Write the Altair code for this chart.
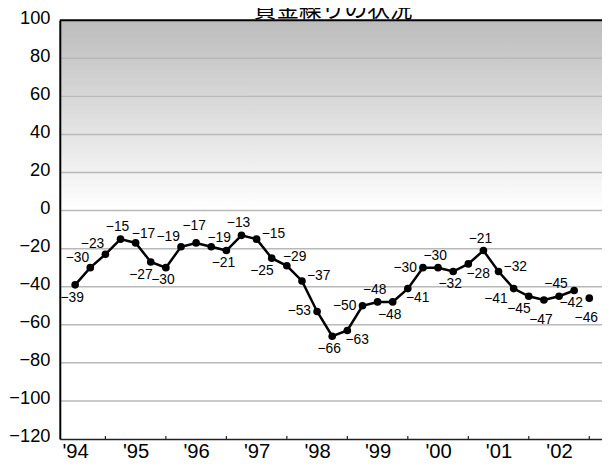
import json
import altair as alt
import pandas as pd

# ---------------- data ----------------
chart_title = "資金繰りの状況"
values = [-39, -30, -23, -15, -17, -27, -30, -19, -17, -19, -21, -13,
          -15, -25, -29, -37, -53, -66, -63, -50, -48, -48, -41, -30,
          -30, -32, -28, -21, -32, -41, -45, -47, -45, -42, -46]
first_year, first_quarter = 1994, 3
kinds = ["actual"] * 34 + ["forecast"]
placements = ["below", "upleft", "upleft", "above", "upright", "downleft",
              "below", "upleft", "high", "upright", "below", "above",
              "right", "downleft", "upright", "right", "left", "below",
              "downright", "left", "above", "below", "downright", "left",
              "above", "below", "downright", "above", "right", "downleft2",
              "downleft", "low", "above", "below", "low"]
year_labels = ["'94", "'95", "'96", "'97", "'98", "'99", "'00", "'01", "'02"]
label_years = [1994.5, 1995.5, 1996.5, 1997.5, 1998.5, 1999.5, 2000.5, 2001.5, 2002.5]
tick_years = [1995, 1996, 1997, 1998, 1999, 2000, 2001, 2002, 2003]
y_ticks = [-120, -100, -80, -60, -40, -20, 0, 20, 40, 60, 80, 100]
grid_values = [-100, -80, -60, -40, -20, 0, 20, 40, 60, 80]

# label offsets (dx, dy) per placement
offsets = {
    "above": (-3, -12), "below": (-3, 13), "low": (-3, 20), "high": (-2, -17),
    "left": (-18, 0), "right": (17, -5), "upleft": (-13, -10),
    "upright": (8, -9), "downleft": (-10, 13), "downleft2": (-18, 11),
    "downright": (10, 10),
}

t = [first_year + (first_quarter - 1) / 4 + i / 4 for i in range(len(values))]
df = pd.DataFrame({"t": t, "value": values, "pos": placements, "kind": kinds})

FONT = "Liberation Sans Narrow, Liberation Sans, sans-serif"
W, H = 549.5, 424.4
xs = alt.Scale(domain=[1994.2463, 2003.2104], nice=False, zero=False)
ys = alt.Scale(domain=[-120, 100], nice=False, zero=False)

xaxis = alt.Axis(values=label_years, ticks=False, grid=False, title=None,
                 labelExpr=f"{json.dumps(year_labels)}[floor(datum.value) - 1994]",
                 labelFont=FONT, labelFontSize=20.5, labelColor="#000",
                 labelPadding=3, labelAngle=0, domainColor="#222",
                 domainWidth=1.5, zindex=1, labelFlush=False, labelOverlap=False)
yaxis = alt.Axis(values=y_ticks, ticks=False, grid=False, title=None, format="d",
                 labelFont=FONT, labelFontSize=18.5, labelColor="#000",
                 labelPadding=10, labelOffset=-3, domainColor="#000",
                 domainWidth=2, zindex=1, labelOverlap=False, labelFlush=False)


def X(field):
    return alt.X(field, type="quantitative", scale=xs, axis=xaxis)


def Y(field):
    return alt.Y(field, type="quantitative", scale=ys, axis=yaxis)


bg = alt.Chart(pd.DataFrame({"top": [100], "bottom": [0]})).mark_rect(
    fill=alt.Gradient(gradient="linear",
                      stops=[alt.GradientStop(color="#bcbcbc", offset=0),
                             alt.GradientStop(color="#ffffff", offset=1)],
                      x1=0, y1=0, x2=0, y2=1)
).encode(x=alt.value(0), x2=alt.value(W), y=Y("top"), y2=alt.Y2("bottom"))

grid = alt.Chart(pd.DataFrame({"g": grid_values})).mark_rule(
    color="#b8b8b8", strokeWidth=1.5).encode(
    y=Y("g"), x=alt.value(0), x2=alt.value(W))

top_border = alt.Chart(pd.DataFrame({"g": [100]})).mark_rule(
    color="#000", strokeWidth=2.2).encode(y=Y("g"), x=alt.value(0), x2=alt.value(W))

ticks = alt.Chart(pd.DataFrame({"yr": tick_years, "a": [-120] * len(tick_years),
                                "b": [-118.4] * len(tick_years)})).mark_rule(
    color="#222", strokeWidth=1.2).encode(x=X("yr"), y=Y("a"), y2=alt.Y2("b"))

title_mark = alt.Chart(pd.DataFrame({"title": [chart_title]})).mark_text(
    font="Noto Sans CJK JP", fontSize=23, color="#000", align="center",
    baseline="alphabetic").encode(text="title:N", x=alt.value(277), y=alt.value(-3.5))

base = alt.Chart(df)
line = base.transform_filter(alt.datum.kind == "actual").mark_line(
    color="#000", strokeWidth=2.5).encode(x=X("t"), y=Y("value"))
pts = base.mark_circle(size=60, color="#000", opacity=1).encode(x=X("t"), y=Y("value"))

text_layers = []
for key, (dx, dy) in offsets.items():
    text_layers.append(
        base.transform_filter(alt.datum.pos == key).mark_text(
            dx=dx, dy=dy, font=FONT, fontSize=14, color="#000",
            align="center", baseline="middle").encode(
            x=X("t"), y=Y("value"), text=alt.Text("value:Q", format="d")))

chart = alt.layer(bg, grid, top_border, ticks, line, pts, *text_layers, title_mark).properties(
    width=W, height=H,
    autosize=alt.AutoSizeParams(type="none"),
    padding={"left": 52.5, "top": 9.3, "right": 0, "bottom": 26.3},
).configure_view(stroke=None)

chart.save("out.html", embed_options={"renderer": "svg", "actions": False})
